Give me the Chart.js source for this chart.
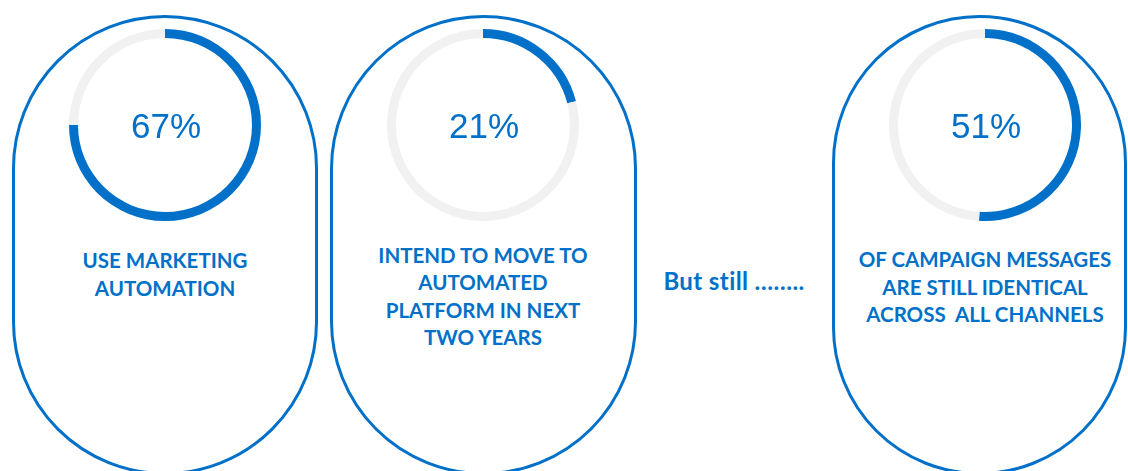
<!DOCTYPE html>
<html>
<head>
<meta charset="utf-8">
<script src="https://cdn.jsdelivr.net/npm/chart.js@4"></script>
<style>
  html, body { margin: 0; padding: 0; background: #fff; }
  #stage { position: relative; width: 1128px; height: 471px; overflow: hidden; }
  .pill {
    position: absolute; box-sizing: border-box;
    border: 3px solid #0070C9; border-radius: 160px;
  }
  .ring { position: absolute; width: 192px; height: 192px; }
  .label {
    position: absolute; width: 320px; text-align: center; white-space: pre;
    font-family: Lato, "Open Sans", sans-serif; font-weight: 700;
    font-size: 20.5px; line-height: 27.5px; color: #0070C9;
  }
</style>
</head>
<body>
<div id="stage">
  <div class="pill" style="left:12px; top:15px; width:306px; height:460px;"></div>
  <div class="pill" style="left:330px; top:15px; width:307px; height:460px;"></div>
  <div class="pill" style="left:832px; top:15px; width:295px; height:460px;"></div>

  <canvas id="ring0" class="ring" style="left:69px; top:29px;"></canvas>
  <canvas id="ring1" class="ring" style="left:387px; top:29px;"></canvas>
  <canvas id="ring2" class="ring" style="left:889px; top:29px;"></canvas>

  <div id="label0" class="label" style="left:5px; top:247px;"></div>
  <div id="label1" class="label" style="left:323px; top:241.5px;"></div>
  <div id="label2" class="label" style="left:825px; top:246px;"></div>
  <div id="between" class="label" style="left:634px; top:267px; width:200px; font-size:24px; letter-spacing:0.4px;"></div>
</div>
<script>
// values shown in the centre of each ring
const percentLabels = [67, 21, 51];
// share of each ring that is filled in blue (as drawn in the picture)
const ringFill = [75, 21, 51];
const captions = [
    ['USE MARKETING', 'AUTOMATION'],
    ['INTEND TO MOVE TO', 'AUTOMATED', 'PLATFORM IN NEXT', 'TWO YEARS'],
    ['OF CAMPAIGN MESSAGES', 'ARE STILL IDENTICAL', 'ACROSS  ALL CHANNELS']
];
const betweenText = 'But still ……..';

const BLUE = '#0070C9';
const TRACK = '#F1F1F1';

// draws the percentage in the middle of the ring
const centerText = {
    id: 'centerText',
    afterDraw(chart, args, opts) {
        const ctx = chart.ctx;
        const meta = chart.getDatasetMeta(0).data[0];
        ctx.save();
        ctx.font = '35px "Liberation Sans", Arial, sans-serif';
        ctx.fillStyle = BLUE;
        ctx.textAlign = 'center';
        ctx.textBaseline = 'alphabetic';
        ctx.fillText(opts.text, meta.x + 1, meta.y + 13);
        ctx.restore();
    }
};

ringFill.forEach((v, i) => {
    const ctx = document.getElementById('ring' + i).getContext('2d');
    new Chart(ctx, {
        type: 'doughnut',
        data: {
            labels: ['filled', 'rest'],
            datasets: [{
                data: [v, 100 - v],
                backgroundColor: [BLUE, TRACK],
                borderWidth: 0
            }]
        },
        options: {
            responsive: false,
            animation: false,
            cutout: 87,
            layout: { padding: 0 },
            events: [],
            plugins: {
                legend: { display: false },
                tooltip: { enabled: false },
                centerText: { text: percentLabels[i] + '%' }
            }
        },
        plugins: [centerText]
    });
    document.getElementById('label' + i).textContent = captions[i].join('\n');
});
document.getElementById('between').textContent = betweenText;
</script>
</body>
</html>
